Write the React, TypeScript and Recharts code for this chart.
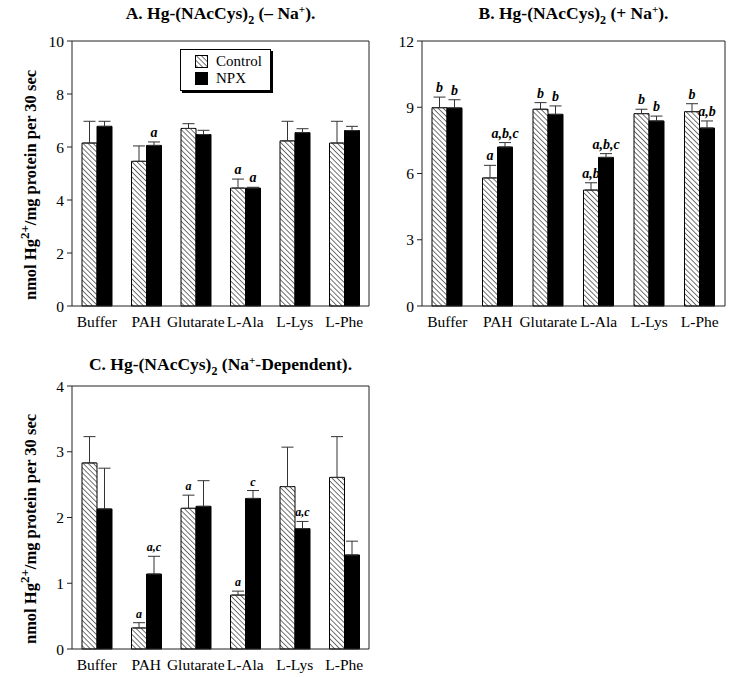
import { Bar, BarChart, ErrorBar, LabelList, XAxis, YAxis } from "recharts";

const categories = ["Buffer", "PAH", "Glutarate", "L-Ala", "L-Lys", "L-Phe"];

// A. without Na+
const ctrlA = [6.15, 5.46, 6.7, 4.45, 6.23, 6.15];
const ctrlErrA = [0.82, 0.58, 0.18, 0.34, 0.74, 0.82];
const npxA = [6.78, 6.06, 6.47, 4.45, 6.54, 6.62];
const npxErrA = [0.19, 0.13, 0.16, 0.03, 0.15, 0.16];
const ctrlNotesA = ["", "", "", "a", "", ""];
const npxNotesA = ["", "a", "", "a", "", ""];
const ticksA = [0, 2, 4, 6, 8, 10];

// B. with Na+
const ctrlB = [8.98, 5.8, 8.91, 5.25, 8.71, 8.8];
const ctrlErrB = [0.48, 0.57, 0.3, 0.33, 0.2, 0.36];
const npxB = [8.97, 7.2, 8.68, 6.73, 8.38, 8.06];
const npxErrB = [0.37, 0.2, 0.38, 0.17, 0.22, 0.32];
const ctrlNotesB = ["b", "a", "b", "a,b", "b", "b"];
const npxNotesB = ["b", "a,b,c", "b", "a,b,c", "b", "a,b"];
const ticksB = [0, 3, 6, 9, 12];

// C. Na+-dependent
const ctrlC = [2.83, 0.32, 2.14, 0.82, 2.47, 2.61];
const ctrlErrC = [0.4, 0.08, 0.2, 0.06, 0.6, 0.62];
const npxC = [2.13, 1.14, 2.17, 2.29, 1.83, 1.43];
const npxErrC = [0.62, 0.27, 0.39, 0.12, 0.11, 0.21];
const ctrlNotesC = ["", "a", "a", "a", "", ""];
const npxNotesC = ["", "a,c", "", "c", "a,c", ""];
const ticksC = [0, 1, 2, 3, 4];

const FONT = "'Liberation Serif', 'Times New Roman', serif";

function buildRows(ctrl: number[], ctrlErr: number[], npx: number[], npxErr: number[]) {
  return categories.map((name, i) => ({
    name,
    control: ctrl[i],
    controlErr: [0, ctrlErr[i]],
    npx: npx[i],
    npxErr: [0, npxErr[i]],
  }));
}

const noteLabel = (notes: string[], errs: number[], size: number) => (props: any) => {
  const { x, y, width, height, index, value } = props;
  const note = notes[index];
  if (!note) return null;
  const ppu = Number(height) / Number(value);
  const top = Number(y) - errs[index] * ppu;
  return (
    <text
      x={Number(x) + Number(width) / 2}
      y={top - 5}
      textAnchor="middle"
      fontFamily={FONT}
      fontStyle="italic"
      fontWeight="bold"
      fontSize={size}
      fill="#000"
    >
      {note}
    </text>
  );
};

const yLabel = (cy: number) => () => (
  <text
    x={36}
    y={cy}
    transform={`rotate(-90, 36, ${cy})`}
    textAnchor="middle"
    fontFamily={FONT}
    fontWeight="bold"
    fontSize={16.5}
    fill="#000"
  >
    <tspan>nmol Hg</tspan>
    <tspan dy={-7} fontSize={13}>2+</tspan>
    <tspan dy={7}>/mg protein per 30 sec</tspan>
  </text>
);

type PanelProps = {
  id: string;
  left: number;
  top: number;
  width: number;
  height: number;
  marginTop: number;
  marginRight: number;
  marginBottom: number;
  yWidth: number;
  rows: any[];
  ticks: number[];
  ctrlNotes: string[];
  npxNotes: string[];
  ctrlErr: number[];
  npxErr: number[];
  noteSize: number;
  showYLabel: boolean;
};

function Panel(p: PanelProps) {
  const max = p.ticks[p.ticks.length - 1];
  const plotMid = p.marginTop + (p.height - p.marginTop - p.marginBottom - 24) / 2;
  const axisStyle = { stroke: "#222", strokeWidth: 1 };
  const tickStyle = { fontFamily: FONT, fontSize: 15.5, fill: "#000" };
  return (
    <div style={{ position: "absolute", left: p.left, top: p.top }}>
      <BarChart
        width={p.width}
        height={p.height}
        data={p.rows}
        margin={{ top: p.marginTop, right: p.marginRight, bottom: p.marginBottom, left: 0 }}
        barGap={0}
        barSize={15}
      >
        <defs>
          <pattern
            id={`hatch${p.id}`}
            width={3.6}
            height={3.6}
            patternUnits="userSpaceOnUse"
            patternTransform="rotate(-45)"
          >
            <rect width={3.6} height={3.6} fill="#fff" />
            <line x1={0} y1={0} x2={0} y2={3.6} stroke="#000" strokeWidth={1.1} />
          </pattern>
        </defs>
        <XAxis
          dataKey="name"
          height={24}
          tickLine={false}
          tickMargin={4}
          axisLine={axisStyle}
          tick={tickStyle}
          interval={0}
        />
        <XAxis xAxisId="top" dataKey="name" orientation="top" height={1} tick={false} tickLine={false} axisLine={axisStyle} />
        <YAxis
          width={p.yWidth}
          domain={[0, max]}
          ticks={p.ticks}
          tickSize={5}
          tickMargin={3}
          axisLine={axisStyle}
          tickLine={axisStyle}
          tick={tickStyle}
          label={p.showYLabel ? { content: yLabel(plotMid + 12) } : undefined}
        />
        <YAxis
          yAxisId="right"
          orientation="right"
          width={6}
          domain={[0, max]}
          ticks={p.ticks}
          tickSize={5}
          tick={false}
          axisLine={axisStyle}
          tickLine={axisStyle}
        />
        <Bar dataKey="control" fill={`url(#hatch${p.id})`} stroke="#000" strokeWidth={1} isAnimationActive={false}>
          <ErrorBar dataKey="controlErr" width={6} stroke="#333" strokeWidth={1} direction="y" />
          <LabelList dataKey="control" content={noteLabel(p.ctrlNotes, p.ctrlErr, p.noteSize)} />
        </Bar>
        <Bar dataKey="npx" fill="#000" stroke="#000" strokeWidth={1} isAnimationActive={false}>
          <ErrorBar dataKey="npxErr" width={6} stroke="#333" strokeWidth={1} direction="y" />
          <LabelList dataKey="npx" content={noteLabel(p.npxNotes, p.npxErr, p.noteSize)} />
        </Bar>
      </BarChart>
    </div>
  );
}

const titleStyle = (left: number, top: number, width: number): React.CSSProperties => ({
  position: "absolute",
  left,
  top,
  width,
  textAlign: "center",
  fontFamily: FONT,
  fontWeight: "bold",
  fontSize: 17.5,
  color: "#000",
  whiteSpace: "nowrap",
});

const subStyle: React.CSSProperties = { fontSize: 12, verticalAlign: -5 };
const supStyle: React.CSSProperties = { fontSize: 11, verticalAlign: 6 };

function Swatch({ hatch }: { hatch: boolean }) {
  return (
    <svg width={13} height={13} style={{ marginRight: 8 }}>
      <defs>
        <pattern id="legHatch" width={3.6} height={3.6} patternUnits="userSpaceOnUse" patternTransform="rotate(-45)">
          <rect width={3.6} height={3.6} fill="#fff" />
          <line x1={0} y1={0} x2={0} y2={3.6} stroke="#000" strokeWidth={1.1} />
        </pattern>
      </defs>
      <rect x={0.5} y={0.5} width={12} height={12} fill={hatch ? "url(#legHatch)" : "#000"} stroke="#000" />
    </svg>
  );
}

export default function App() {
  return (
    <div style={{ position: "absolute", left: 0, top: 0, width: 737, height: 677, background: "#fff" }}>
      <Panel
        id="A"
        left={0}
        top={0}
        width={375}
        height={330}
        marginTop={40}
        marginRight={0}
        marginBottom={0}
        yWidth={72}
        rows={buildRows(ctrlA, ctrlErrA, npxA, npxErrA)}
        ticks={ticksA}
        ctrlNotes={ctrlNotesA}
        npxNotes={npxNotesA}
        ctrlErr={ctrlErrA}
        npxErr={npxErrA}
        noteSize={14}
        showYLabel
      />
      <Panel
        id="B"
        left={370}
        top={0}
        width={367}
        height={330}
        marginTop={40}
        marginRight={6}
        marginBottom={0}
        yWidth={52}
        rows={buildRows(ctrlB, ctrlErrB, npxB, npxErrB)}
        ticks={ticksB}
        ctrlNotes={ctrlNotesB}
        npxNotes={npxNotesB}
        ctrlErr={ctrlErrB}
        npxErr={npxErrB}
        noteSize={14}
        showYLabel={false}
      />
      <Panel
        id="C"
        left={0}
        top={330}
        width={375}
        height={347}
        marginTop={55}
        marginRight={0}
        marginBottom={4}
        yWidth={72}
        rows={buildRows(ctrlC, ctrlErrC, npxC, npxErrC)}
        ticks={ticksC}
        ctrlNotes={ctrlNotesC}
        npxNotes={npxNotesC}
        ctrlErr={ctrlErrC}
        npxErr={npxErrC}
        noteSize={12}
        showYLabel
      />
      <div style={titleStyle(72, 3, 297)}>
        A. Hg-(NAcCys)<span style={subStyle}>2</span> (– Na<span style={supStyle}>+</span>).
      </div>
      <div style={titleStyle(422, 3, 303)}>
        B. Hg-(NAcCys)<span style={subStyle}>2</span> (+ Na<span style={supStyle}>+</span>).
      </div>
      <div style={titleStyle(72, 354, 297)}>
        C. Hg-(NAcCys)<span style={subStyle}>2</span> (Na<span style={supStyle}>+</span>-Dependent).
      </div>
      <div
        style={{
          position: "absolute",
          left: 180,
          top: 49,
          width: 91,
          height: 42,
          border: "1px solid #000",
          boxShadow: "2px 2px 0 #000",
          background: "#fff",
          fontFamily: FONT,
          fontSize: 15,
          padding: "3px 0 0 14px",
          boxSizing: "border-box",
          lineHeight: "17px",
        }}
      >
        <div style={{ display: "flex", alignItems: "center" }}>
          <Swatch hatch />
          Control
        </div>
        <div style={{ display: "flex", alignItems: "center" }}>
          <Swatch hatch={false} />
          NPX
        </div>
      </div>
    </div>
  );
}
